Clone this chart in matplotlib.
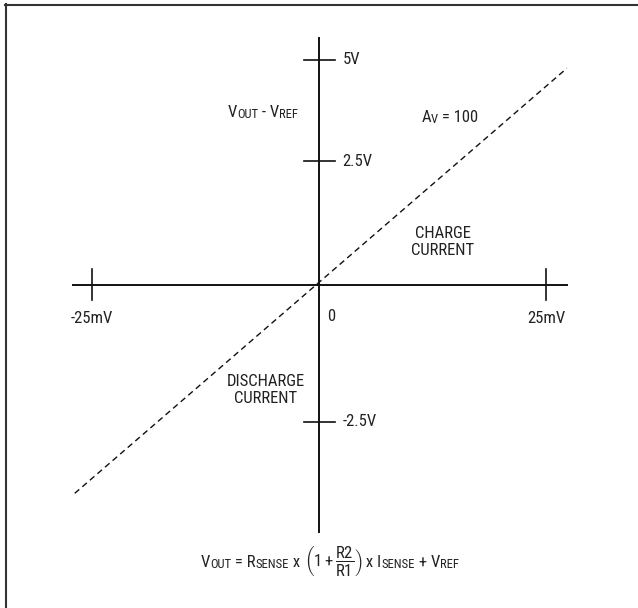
import matplotlib
matplotlib.use('Agg')
import matplotlib.pyplot as plt
from matplotlib import font_manager, transforms
from matplotlib.lines import Line2D

# pick a narrow sans if one is installed
installed = font_manager.fontManager.ttflist
narrow = [f.name for f in installed
          if ('Narrow' in f.name or 'Condensed' in f.name
              or f.stretch in ('condensed', 'semi-condensed', 'extra-condensed'))]
preferred = ['Liberation Sans Narrow', 'Roboto Condensed', 'Open Sans Condensed',
             'Noto Sans Condensed', 'DejaVu Sans Condensed']
font = next((p for p in preferred if p in narrow), narrow[0] if narrow else 'Liberation Sans')

plt.rcParams['font.family'] = [font, 'DejaVu Sans']
plt.rcParams['mathtext.fontset'] = 'custom'
plt.rcParams['mathtext.rm'] = font
plt.rcParams['mathtext.it'] = font
plt.rcParams['mathtext.bf'] = font

# transfer line (sense voltage in mV vs output, schematic units)
line_mv = [-26.9, 27.3]
line_out = [-4.2, 4.37]

# axis extents
x_axis = [-27.2, 27.4]
y_axis = [-5.0, 5.0]

# tick positions and labels
x_ticks = [-25, 25]
x_labels = ['-25mV', '25mV']
y_ticks = [4.54, 2.5, -2.76]
y_labels = ['5V', '2.5V', '-2.5V']

FS = 12
SUB = 0.76
ink = '#111111'
txt = '#222222'

fig = plt.figure(figsize=(6.38, 6.08), dpi=100)
ax = fig.add_axes([0, 0, 1, 1])
# 9.08 px per mV, 49.6 px per unit, origin at (319, 285)
ax.set_xlim(-319 / 9.08, 319 / 9.08)
ax.set_ylim(-323 / 49.6, 285 / 49.6)
ax.axis('off')
renderer = fig.canvas.get_renderer()


def runs(x, y, parts, ha='center'):
    """Lay out text pieces on one baseline; kind 'n' normal, 's' subscript, 'g' gap (px)."""
    items = []
    for s, kind in parts:
        if kind == 'g':
            items.append((None, s))
            continue
        size = FS * SUB if kind == 's' else FS
        t = ax.text(x, y, s, fontsize=size, va='baseline', ha='left', color=txt)
        items.append((t, t.get_window_extent(renderer).width))
    total = sum(w for _, w in items)
    pos = -total / 2 if ha == 'center' else 0
    for (t, w), (s, kind) in zip(items, parts):
        if t is not None:
            dy = -1.0 if kind == 's' else 0
            t.set_transform(transforms.offset_copy(ax.transData, fig, x=pos * 72 / 100,
                                                   y=dy * 72 / 100, units='points'))
        pos += w


# axes
ax.plot(x_axis, [0, 0], color=ink, lw=1.4, solid_capstyle='butt')
ax.plot([0, 0], y_axis, color=ink, lw=1.4, solid_capstyle='butt')

# ticks
for xt, lab in zip(x_ticks, x_labels):
    ax.plot([xt, xt], [-0.31, 0.33], color=ink, lw=1.2)
    ax.text(xt, -0.67, lab, ha='center', va='center', fontsize=FS, color=txt)
for yt, lab in zip(y_ticks, y_labels):
    ax.plot([-1.7, 1.8], [yt, yt], color=ink, lw=1.2)
    ax.text(2.6, yt, lab, ha='left', va='center', fontsize=FS, color=txt)
ax.text(1.3, -0.63, '0', ha='center', va='center', fontsize=FS, color=txt)

# dashed transfer line
ax.plot(line_mv, line_out, color=ink, lw=1.0, dashes=(4.3, 2.9))

# annotations
runs(-6.2, 3.39, [('V', 'n'), ('OUT', 's'), (' - V', 'n'), ('REF', 's')])
runs(14.4, 3.29, [('A', 'n'), ('V', 's'), (' = 100', 'n')])
ax.text(13.66, 0.87, 'CHARGE\nCURRENT', ha='center', va='center', fontsize=FS,
        color=txt, linespacing=1.15)
ax.text(-5.84, -2.12, 'DISCHARGE\nCURRENT', ha='center', va='center', fontsize=FS,
        color=txt, linespacing=1.15)
runs(1.2, -5.68, [('V', 'n'), ('OUT', 's'), (' = R', 'n'), ('SENSE', 's'), (' x', 'n'), (4, 'g'),
                  (r'$\left(\mathregular{1 + }\dfrac{\mathregular{R2}}{\mathregular{R1}}\right)$', 'n'),
                  (' x I', 'n'), ('SENSE', 's'), (' + V', 'n'), ('REF', 's')])

# frame (top and left edges)
fig.add_artist(Line2D([5 / 638, 1], [1 - 5 / 608, 1 - 5 / 608], transform=fig.transFigure,
                      color='#333333', lw=1.5))
fig.add_artist(Line2D([6 / 638, 6 / 638], [0, 1 - 4 / 608], transform=fig.transFigure,
                      color='#333333', lw=1.5))

fig.savefig('out.png', dpi=100, facecolor='white')
